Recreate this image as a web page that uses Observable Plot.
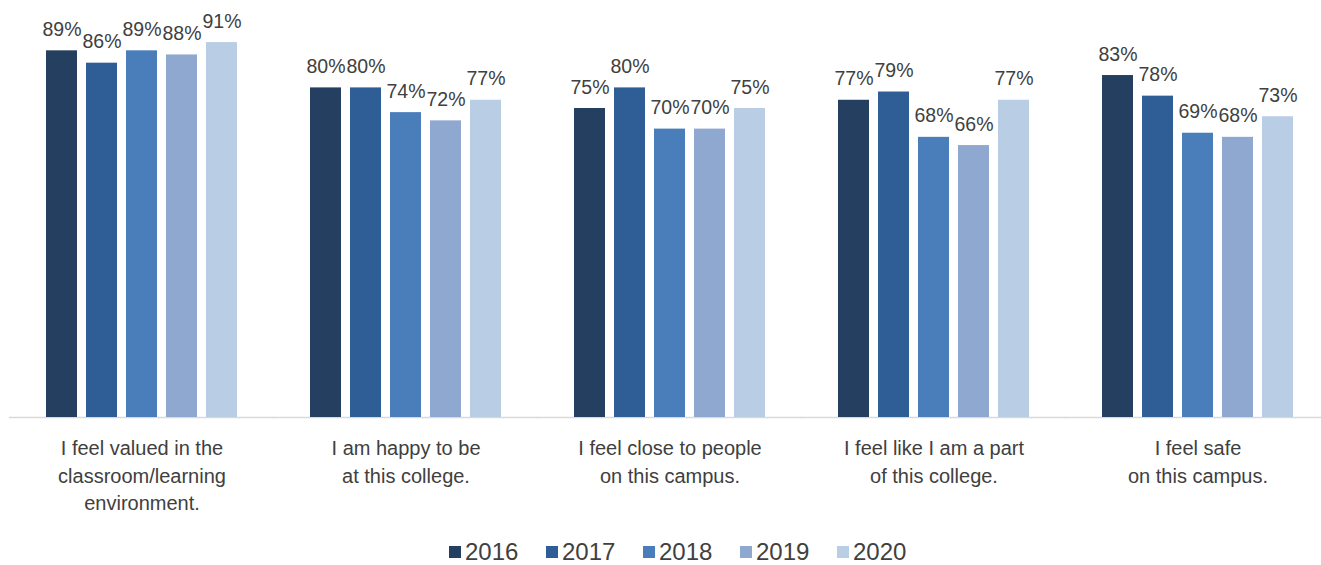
<!DOCTYPE html>
<html>
<head>
<meta charset="utf-8">
<script src="https://cdn.jsdelivr.net/npm/d3@7"></script>
<script src="https://cdn.jsdelivr.net/npm/@observablehq/plot@0.6"></script>
<style>
  html, body { margin: 0; padding: 0; background: #fff; overflow: hidden; }
  #wrap { position: relative; width: 1321px; height: 565px; font-family: "Liberation Sans", Arial, sans-serif; }
  #legend { position: absolute; left: 449px; top: 540px; display: flex; }
  .item { display: flex; align-items: center; width: 97px; height: 24px; }
  .sw { width: 12px; height: 12px; margin-right: 4px; }
  .lt { font-size: 24px; line-height: 24px; color: #404040; }
</style>
</head>
<body>
<div id="wrap">
  <div id="chart"></div>
  <div id="legend"></div>
</div>
<script>
const categories = ["valued", "happy", "close", "part", "safe"];
const categoryLabels = [
  "I feel valued in the\nclassroom/learning\nenvironment.",
  "I am happy to be\nat this college.",
  "I feel close to people\non this campus.",
  "I feel like I am a part\nof this college.",
  "I feel safe\non this campus."
];
const years = ["2016", "2017", "2018", "2019", "2020"];
const values2016 = [89, 80, 75, 77, 83];
const values2017 = [86, 80, 80, 79, 78];
const values2018 = [89, 74, 70, 68, 69];
const values2019 = [88, 72, 70, 66, 68];
const values2020 = [91, 77, 75, 77, 73];
const colors = ["#243F60", "#2F5D95", "#4A7EBB", "#8FA8D0", "#B9CDE5"];

const series = [values2016, values2017, values2018, values2019, values2020];
const labelOf = new Map(categories.map((c, i) => [c, categoryLabels[i]]));
const data = [];
categories.forEach((c, i) => years.forEach((y, j) => data.push({category: c, year: y, value: series[j][i]})));

const chart = Plot.plot({
  width: 1321,
  height: 520,
  marginTop: 5,
  marginBottom: 103,
  marginLeft: 10,
  marginRight: 0,
  style: {fontFamily: "Liberation Sans, Arial, sans-serif", color: "#404040", background: "transparent"},
  fx: {domain: categories, range: [10, 1330], paddingInner: 0.26, paddingOuter: 0.13, label: null},
  x: {domain: years, paddingInner: 0.225, paddingOuter: 0, axis: null},
  y: {domain: [0, 100], axis: null},
  color: {domain: years, range: colors},
  marks: [
    Plot.ruleY([0], {stroke: "#d9d9d9", strokeWidth: 1.5, insetLeft: -35, insetRight: -35}),
    Plot.barY(data, {fx: "category", x: "year", y: "value", fill: "year"}),
    Plot.text(data, {fx: "category", x: "year", y: "value", text: d => d.value + "%", dy: -15, lineAnchor: "bottom", fontSize: 19.5, fill: "#404040"}),
    Plot.axisFx({anchor: "bottom", tickSize: 0, tickPadding: 18, fontSize: 20, lineHeight: 1.375, fill: "#404040", label: null, tickFormat: d => labelOf.get(d)})
  ]
});
document.getElementById("chart").appendChild(chart);

const legend = document.getElementById("legend");
years.forEach((y, j) => {
  const it = document.createElement("div");
  it.className = "item";
  const sw = document.createElement("div");
  sw.className = "sw";
  sw.style.background = colors[j];
  const t = document.createElement("span");
  t.className = "lt";
  t.textContent = y;
  it.appendChild(sw);
  it.appendChild(t);
  legend.appendChild(it);
});
</script>
</body>
</html>
